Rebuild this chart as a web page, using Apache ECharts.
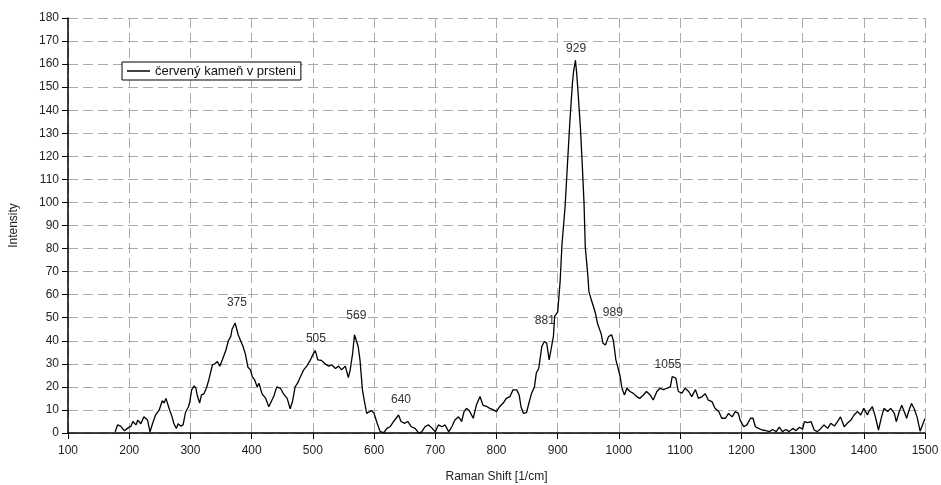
<!DOCTYPE html>
<html>
<head>
<meta charset="utf-8">
<script src="https://cdn.jsdelivr.net/npm/echarts@6/dist/echarts.min.js"></script>
<style>html,body{margin:0;padding:0;background:#fff}#c{width:941px;height:485px}</style>
</head>
<body>
<div id="c"></div>
<script>
var seriesName = 'červený kameň v prsteni';
var shifts = [177,181,186,192,197,203,206,211,214,219,224,227,230,234,238,243,249,254,257,260,263,266,270,273,277,280,284,288,292,297,299,302,306,309,311,315,318,322,326,330,336,340,344,348,352,358,362,366,368,373,375,378,382,386,390,394,398,401,405,409,412,417,423,428,430,436,441,447,452,458,463,467,471,475,479,485,490,496,500,504,508,514,520,526,531,537,542,547,553,558,561,565,568,571,574,577,581,584,588,592,596,600,605,610,616,621,626,632,636,640,644,650,655,661,667,673,678,683,689,695,700,705,711,716,722,727,732,738,743,747,751,756,762,767,773,778,784,789,795,800,805,811,816,822,827,833,837,840,844,849,853,857,862,865,869,874,878,882,886,889,893,895,900,904,907,912,916,920,924,926,929,931,933,937,940,943,945,949,951,955,961,965,971,974,978,983,988,991,995,998,1002,1005,1009,1013,1018,1023,1029,1034,1040,1045,1051,1056,1062,1067,1073,1078,1084,1087,1093,1097,1103,1108,1114,1119,1125,1130,1136,1141,1146,1152,1157,1163,1168,1174,1179,1185,1190,1195,1198,1204,1209,1215,1219,1223,1228,1234,1240,1246,1251,1257,1262,1267,1273,1278,1284,1289,1295,1300,1303,1308,1314,1319,1324,1330,1335,1341,1346,1352,1357,1362,1368,1373,1379,1384,1390,1395,1400,1406,1408,1414,1419,1424,1429,1433,1439,1444,1450,1453,1458,1462,1466,1470,1474,1478,1482,1487,1492,1495,1500];
var intensity = [0.5,3.5,3,1,2,3,5,3.5,5.6,4,7,7.4,5.6,0.5,4,7.8,10,14,13,15,14.6,10,7,4,2,4,3,3.5,9,11.5,13.6,18.7,20.4,19.4,16.5,13,16.5,17,19.4,23,29.6,30,31,29,31.7,36,40,42,45,47.7,48.5,42.6,40,37.5,34,28.5,27.4,24.5,23,20,21.6,17,15,11.4,12,15.8,20,19.4,17,15,10.5,14,20,21.6,24,27.4,29,31.7,34,35.8,31.7,31.5,30,29,29.5,28,29,27.4,29,24,27.4,34.6,42.6,42,37.5,31.7,18.7,14,8.5,9.2,9.7,8.5,4.2,0.6,0.2,2,2.7,5,6.4,7.8,5,4.2,5,2.7,2,0,0.5,2.7,3.5,2,0.5,3.5,2.7,3.5,0.5,2.7,5.6,7,5,9.3,10.7,9.5,6.4,12,15.8,12,11.5,10.7,10,9.3,11.4,13,15,15.8,18.7,18.7,16.5,11.4,8.5,8.8,13,17,20,26,28,37.5,39.7,39,31.7,36,42,50.6,52.5,66,82,98,117,135.7,151.6,157,161.7,156,148.7,132.8,117,99.6,80.8,69,61.3,57.7,52.6,47.5,43,38.9,38.2,41.8,42.6,40,31.7,28.8,24.5,19.4,16.5,19.4,18,17.3,15.8,15,16.5,18,16.5,14.3,18,19.4,18.8,19.4,20,24.5,23.8,18,17.3,19.4,18,15.8,18.8,15,15.8,17,14.3,13.6,10.7,9.3,6.4,6.4,8.5,7,9.3,8.5,5.6,2.7,3.5,6.4,6.4,2.7,2,1.3,1,0.6,1.5,0.6,2.5,0.6,1.5,0.6,2,1,2.5,1.6,4.9,4.5,4.9,1.3,0.6,2,3.5,2,4.2,3,4.9,7,2.7,4.2,5.6,7.8,9.3,7.8,10.7,7.8,9.3,11.4,7,1.3,7,10.7,9.3,10.7,8.5,4.9,9.3,12,9.3,6.4,10,12.8,10.7,7,0.8,1.3,6.3];
var peakLabels = ['375','505','569','640','881','929','989','1055'];
var peakX = [376,505,571,644,879,930,990,1080];
var peakY = [56.5,41,50.7,14.3,48.6,166.5,52,29.5];
var xTicks = {min:100, max:1500, interval:100};
var yTicks = {min:0, max:180, interval:10};

var data = shifts.map(function(x,i){return [x,intensity[i]];});
var marks = peakLabels.map(function(t,i){return {coord:[peakX[i],peakY[i]], value:t};});
var font = 'Liberation Sans, Arial, sans-serif';
var gridLine = {show:true, lineStyle:{color:'#aaaaaa', width:1, type:[10,5]}};

var chart = echarts.init(document.getElementById('c'), null, {renderer:'canvas'});
chart.setOption({
  animation:false,
  backgroundColor:'#fff',
  textStyle:{fontFamily:font},
  grid:{left:68, right:16, top:18, bottom:52, containLabel:false, outerBoundsMode:'none'},
  legend:{
    data:[{name:seriesName, icon:'rect'}], left:122, top:62, orient:'vertical',
    backgroundColor:'#fff', borderColor:'#000', borderWidth:1, borderRadius:0,
    padding:[2,5,2,5], itemWidth:23, itemHeight:1.5, itemGap:0,
    itemStyle:{color:'#000'},
    textStyle:{fontFamily:font, fontSize:13, color:'#111', lineHeight:14}
  },
  xAxis:{
    type:'value', min:xTicks.min, max:xTicks.max, interval:xTicks.interval,
    name:'Raman Shift [1/cm]', nameLocation:'middle', nameGap:38,
    nameTextStyle:{fontFamily:font, fontSize:12, color:'#222'},
    axisLine:{show:true, onZero:false, lineStyle:{color:'#000', width:1.5}},
    axisTick:{show:true, length:6, lineStyle:{color:'#000'}},
    axisLabel:{fontFamily:font, fontSize:12, color:'#222', margin:12, formatter:function(v){return String(v);}},
    splitLine:gridLine
  },
  yAxis:{
    type:'value', min:yTicks.min, max:yTicks.max, interval:yTicks.interval,
    name:'Intensity', nameLocation:'middle', nameGap:48,
    nameTextStyle:{fontFamily:font, fontSize:12, color:'#222'},
    axisLine:{show:true, lineStyle:{color:'#000', width:1.5}},
    axisTick:{show:true, length:6, lineStyle:{color:'#000'}},
    axisLabel:{fontFamily:font, fontSize:12, color:'#222', margin:9},
    splitLine:gridLine
  },
  series:[{
    name:seriesName, type:'line', data:data, symbol:'none', smooth:false,
    lineStyle:{color:'#000', width:1.3}, itemStyle:{color:'#000'},
    markPoint:{
      symbol:'circle', symbolSize:0, silent:true,
      label:{show:true, position:'inside', formatter:function(p){return p.value;}, fontFamily:font, fontSize:12, color:'#333'},
      data:marks
    }
  }]
});
</script>
</body>
</html>
